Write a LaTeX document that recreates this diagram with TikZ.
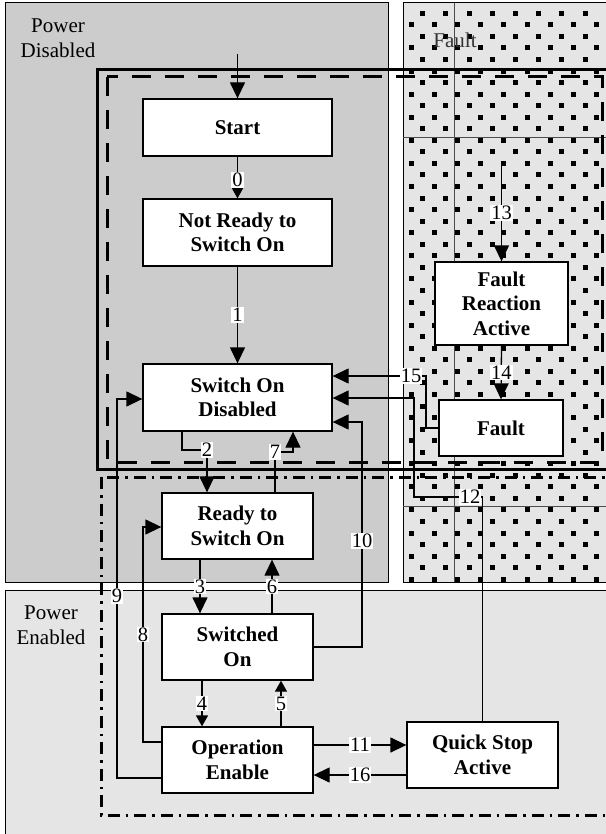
\documentclass[tikz,border=0pt]{standalone}
\usepackage{fontspec}
\setmainfont{Liberation Serif}
\usetikzlibrary{arrows.meta,%
		calc}
\definecolor{pdgray}{gray}{0.8}
\definecolor{pegray}{gray}{0.9}

\begin{document}
\begin{tikzpicture}[x=1pt,y=-1pt,
	state/.style={draw, line width=1.3pt, fill=white, align=center, inner sep=0pt, font=\fontsize{21}{24.5}\selectfont\bfseries},
	trans/.style={line width=1.3pt, -{Triangle[length=16pt,width=15pt]}},
	shorttip/.style={-{Triangle[length=11pt,width=12pt]}},
	lbl/.style={fill=white, inner sep=1pt, font=\fontsize{20.5}{20}\selectfont},
	area/.style={draw, line width=1pt},
	zone/.style={align=center, font=\fontsize{21}{25}\selectfont}]

\useasboundingbox (0,0) rectangle (605,834);
\fill[white] (0,0) rectangle (605,834);

% power areas and fault area
\draw[area, fill=pdgray] (5,3) rectangle (388,582);
\draw[area, fill=pegray] (5,590) rectangle (620,850);
\draw[area, fill=pegray] (403,3) rectangle (620,582);

\begin{scope}
\clip (403,3) rectangle (620,582);
\foreach \j in {0,...,25}
  \foreach \i in {0,...,9}{
    \fill ({422.6+23.2*\i-2.5},{13.3+23.1*\j-2.5}) rectangle ++(5,5);
    \fill ({411+23.2*\i-2.5},{24.85+23.1*\j-2.5}) rectangle ++(5,5);
  }
\end{scope}
\draw[line width=0.6pt, black!70] (454,3) -- (454,582);
\draw[line width=0.6pt, black!70] (403,137) -- (620,137);
\draw[line width=0.6pt, black!70] (403,506) -- (620,506);

\node[zone] (pdis) at (58,38) {Power\\Disabled};
\node[zone] (pena) at (51,625) {Power\\Enabled};
\node[zone, black!80] (fzone) at (455,40) {Fault};

% grouping frames
\draw[line width=3pt] (97,70) rectangle (620,469);
\draw[line width=3pt, dash pattern=on 19pt off 14pt] (107,77) rectangle (602,462);
\draw[line width=3pt, dash pattern=on 12pt off 6pt on 2.5pt off 6pt] (101,477) rectangle (620,815);

% states
\node[state, minimum width=189, minimum height=57] (start) at (237.5,127.5) {Start};
\node[state, minimum width=189, minimum height=67] (notready) at (237.5,232.5) {Not Ready to\\Switch On};
\node[state, minimum width=189, minimum height=67] (disabled) at (237.5,397.5) {Switch On\\Disabled};
\node[state, minimum width=151, minimum height=66] (ready) at (237.5,526) {Ready to\\Switch On};
\node[state, minimum width=151, minimum height=66] (switched) at (237.5,647) {Switched\\On};
\node[state, minimum width=151, minimum height=66] (operation) at (237.5,760) {Operation\\Enable};
\node[state, minimum width=133, minimum height=83] (reaction) at (501.5,303.5) {Fault\\Reaction\\Active};
\node[state, minimum width=124, minimum height=56] (fault) at (501,428) {Fault};
\node[state, minimum width=151, minimum height=66] (quickstop) at (482.5,755) {Quick Stop\\Active};

\coordinate (entry) at (237.5,54);
\coordinate (faultentry) at (501.5,162);

% transitions
\draw[trans] (entry) -- (start.north);
\draw[trans, shorttip] (start.south) -- node[lbl, pos=0.55]{0} (notready.north);
\draw[trans] (notready.south) -- node[lbl]{1} (disabled.north);
\draw[trans] (disabled.south -| 182,0) -- (182,450) -| node[lbl, pos=0.5]{2} (ready.north -| 207,0);
\draw[trans] (ready.north -| 275,0) -- (275,452) node[lbl]{7} -- (293,452) -- (disabled.south -| 293,0);
\draw[trans] (ready.south -| 200,0) -- node[lbl]{3} (switched.north -| 200,0);
\draw[trans] (switched.north -| 272,0) -- node[lbl]{6} (ready.south -| 272,0);
\draw[trans, shorttip] (switched.south -| 202,0) -- node[lbl]{4} (operation.north -| 202,0);
\draw[trans, shorttip] (operation.north -| 281,0) -- node[lbl]{5} (switched.south -| 281,0);
\draw[trans] (operation.west |- 0,742) -- (143,742) -- node[lbl, pos=0.5]{8} (143,527) -- (ready.west |- 0,527);
\draw[trans] (operation.west |- 0,778) -- (117,778) -- node[lbl, pos=0.48]{9} (117,399) -- (disabled.west |- 0,399);
\draw[trans] (switched.east |- 0,647) -- (362,647) -- node[lbl, pos=0.47]{10} (362,422) -- (disabled.east |- 0,422);
\draw[trans] (operation.east |- 0,745) -- node[lbl]{11} (quickstop.west |- 0,745);
\draw[trans] (quickstop.west |- 0,775) -- node[lbl]{16} (operation.east |- 0,775);
\draw[trans] (quickstop.north) -- (482.5,497) -- node[lbl, pos=0.18]{12} (414,497) -- (414,398) -- (disabled.east |- 0,398);
\draw[trans] (fault.west) -- (426,428) -- (426,376) -- node[lbl, pos=0.16]{15} (disabled.east |- 0,376);
\draw[trans] (faultentry) -- node[lbl, pos=0.51]{13} (reaction.north);
\draw[trans] (reaction.south) -- node[lbl]{14} (fault.north);

\end{tikzpicture}
\end{document}
